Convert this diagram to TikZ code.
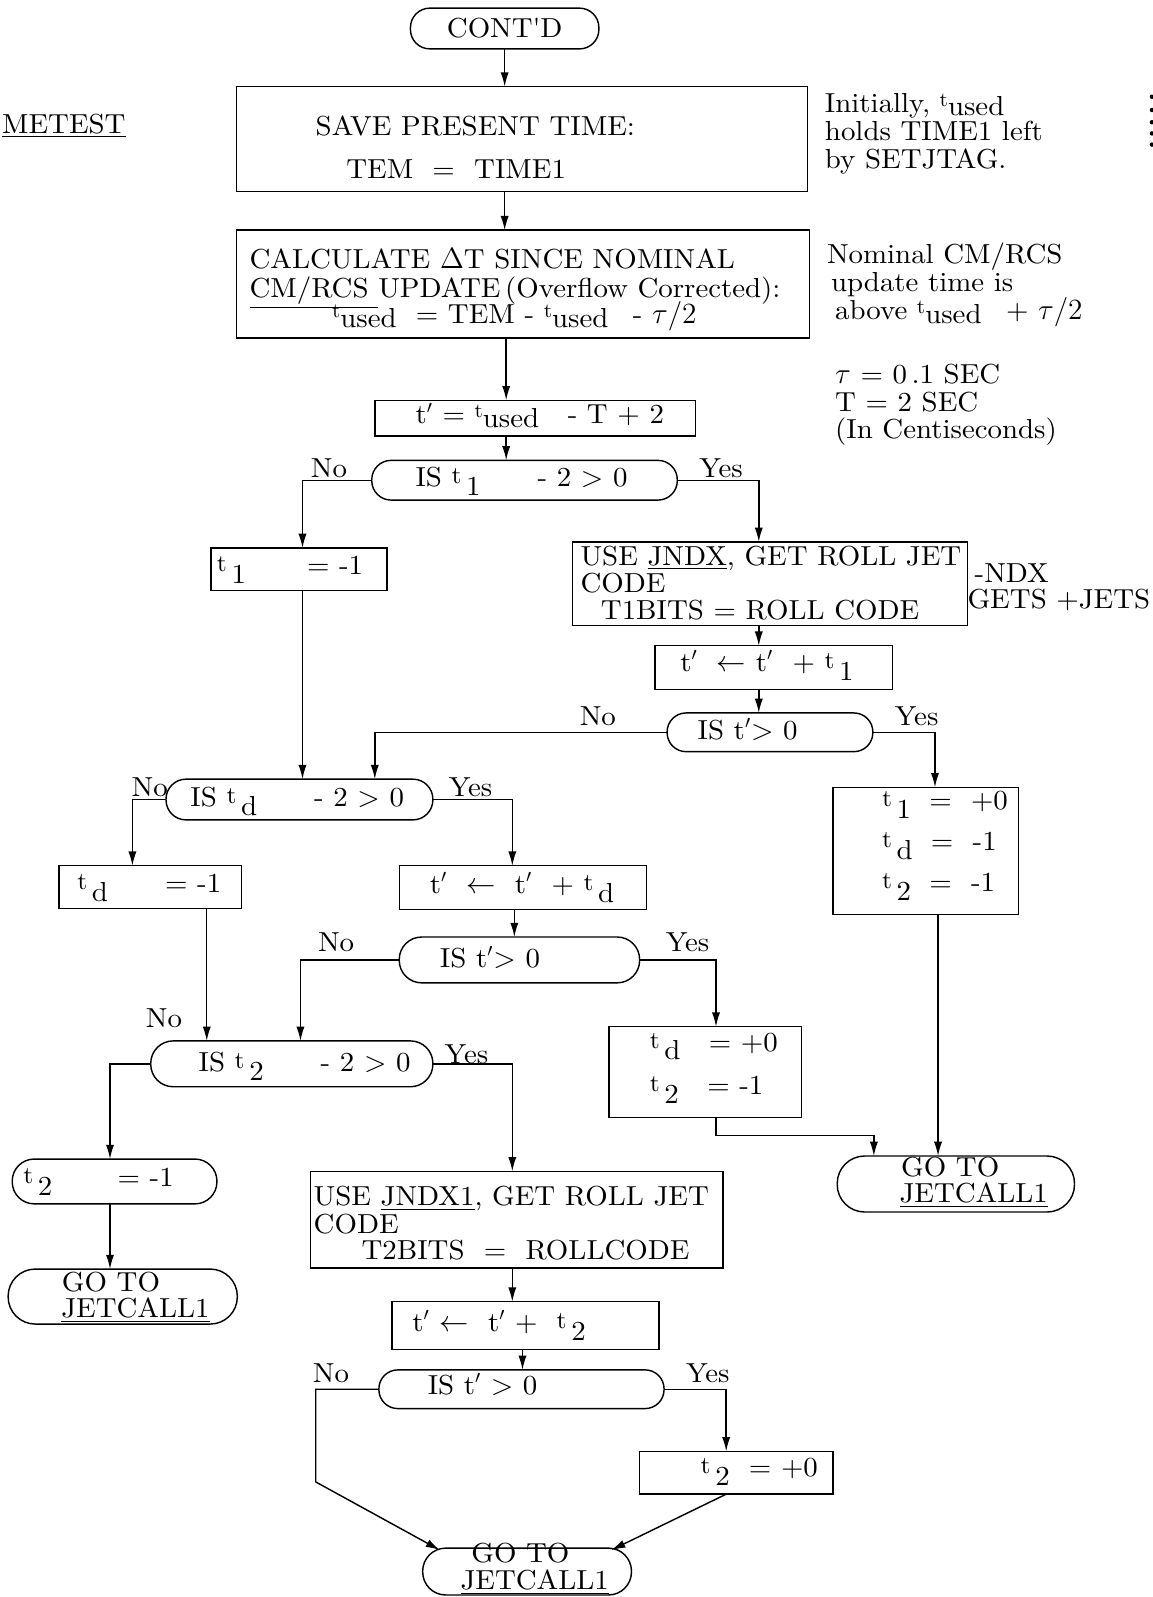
\documentclass[tikz,border=0pt]{standalone}
\usepackage{fontspec}
\setmainfont{lmroman10-regular.otf}[FakeStretch=1.05]
\usetikzlibrary{arrows.meta,calc}
\newcommand{\fsz}{\fontsize{13.5}{15}\selectfont}
\newcommand{\tu}{\raisebox{0.5ex}{\fontsize{10}{10}\selectfont t}\raisebox{-0.3ex}{used}}
\newcommand{\tsb}[1]{\raisebox{0.25ex}{\fontsize{12}{12}\selectfont t}\,\raisebox{-0.75ex}{#1}}
\newcommand{\tq}{t$'$}
\begin{document}
\begin{tikzpicture}[x=0.5pt,y=-0.5pt,
  every node/.style={font=\fsz, inner sep=0pt, outer sep=0pt},
  box/.style={draw, line width=0.7pt},
  term/.style={box, rounded corners=#1},
  arr/.style={line width=0.7pt, -{Latex[length=7pt,width=4pt]}},
  tx/.style={anchor=base west},
  txc/.style={anchor=base}]
\useasboundingbox (0,0) rectangle (1132,1568);

% shapes
\node[term=9.5pt, minimum width=92.5pt, minimum height=20pt] (cont) at (495.5,28) {CONT\textquotesingle D};
\node[box, minimum width=280.5pt, minimum height=51.5pt] (save) at (512.5,136.5) {};
\node[box, minimum width=281.5pt, minimum height=53pt] (calc) at (513.5,279) {};
\node[box, minimum width=157.5pt, minimum height=17.5pt] (tp) at (525.5,410.5) {};
\node[term=9.5pt, minimum width=150pt, minimum height=19.5pt] (d1) at (515,471.5) {};
\node[box, minimum width=86.5pt, minimum height=21pt] (t1box) at (293.5,559) {};
\node[box, minimum width=194pt, minimum height=41pt] (jndx) at (756,573) {};
\node[box, minimum width=116.5pt, minimum height=21.5pt] (tpt1) at (759.5,655.5) {};
\node[term=9.3pt, minimum width=101pt, minimum height=19pt] (d2) at (756,719) {};
\node[term=9.8pt, minimum width=131pt, minimum height=20pt] (dtd) at (294,785) {};
\node[box, minimum width=89.5pt, minimum height=21pt] (tdbox) at (147.5,871) {};
\node[box, minimum width=121.5pt, minimum height=21.5pt] (tptd) at (513.5,871.5) {};
\node[term=11pt, minimum width=118pt, minimum height=22.5pt] (d3) at (510,942.5) {};
\node[box, minimum width=91pt, minimum height=62.5pt] (box3) at (909,835.5) {};
\node[term=11pt, minimum width=138.5pt, minimum height=22.5pt] (dt2) at (286.5,1044.5) {};
\node[box, minimum width=94.5pt, minimum height=44.5pt] (box4) at (692.5,1052.5) {};
\node[term=13.5pt, minimum width=116.5pt, minimum height=27.5pt] (go1) at (938.5,1162.5) {};
\node[term=10.8pt, minimum width=100.5pt, minimum height=22pt] (t2term) at (112.5,1160) {};
\node[term=13.3pt, minimum width=112.5pt, minimum height=27pt] (go2) at (120.5,1273) {};
\node[box, minimum width=202.5pt, minimum height=47.5pt] (jndx1) at (507.5,1197.5) {};
\node[box, minimum width=131pt, minimum height=23.5pt] (tpt2) at (516,1301.5) {};
\node[term=9.3pt, minimum width=140pt, minimum height=19pt] (d4) at (512,1364) {};
\node[box, minimum width=95pt, minimum height=21pt] (t2zero) at (723,1446) {};
\node[term=11.3pt, minimum width=102.5pt, minimum height=23pt] (go3) at (517.5,1543) {};

% texts
\node[anchor=base west] (metest) at (2,131) {\underline{MET}\underline{EST}};
\node[tx] (s1) at (310,133) {SAVE PRESENT TIME:};
\node[tx] (s2) at (340,175) {TEM\ \ =\ \ TIME1};
\node[tx] (n1a) at (810,110) {Initially, \tu};
\node[tx] (n1b) at (810,138) {holds TIME1 left};
\node[tx] (n1c) at (810,165) {by SETJTAG.};
\node[tx] (c1) at (245,264) {CALCULATE $\Delta$T SINCE NOMINAL};
\node[tx] (c2) at (245,292) {\underline{CM/RCS\ }UPDATE\,(Overflow Corrected):};
\node[tx] (c3) at (326,318) {\tu\ \ =\ TEM\ -\ \tu\hspace{12pt}-\ $\tau/2$};
\node[tx] (n2a) at (812,259) {Nominal CM/RCS};
\node[tx] (n2b) at (816,286) {update time is};
\node[tx] (n2c) at (820,314) {above \tu\hspace{12pt}+ $\tau/2$};
\node[tx] (tpt) at (408,416) {\tq\ = \tu\hspace{14pt}- T + 2};
\node[tx] (n3a) at (820,377) {$\tau$ = 0\,.1 SEC};
\node[tx] (n3b) at (820,404) {T = 2 SEC};
\node[tx] (n3c) at (820,431) {(In Centiseconds)};
\node[tx] (d1t) at (408,478) {IS \tsb{1}\hspace{28pt}- 2 > 0};
\node (no1) at (323,460) {No};
\node (yes1) at (708,460) {Yes};
\node[tx] (t1t) at (213,564) {\tsb{1}\hspace{30pt}= -1};
\node[tx] (j1) at (570,555) {USE \underline{JNDX}, GET ROLL JET};
\node[tx] (j2) at (570,582) {CODE};
\node[tx] (j3) at (590,608) {T1BITS = ROLL CODE};
\node[tx] (ndx1) at (957,572) {-NDX};
\node[tx] (ndx2) at (950,597) {GETS +JETS};
\node[tx] (tpt1t) at (668,659) {\tq\ \ $\leftarrow$ \tq\ \ + \tsb{1}};
\node[tx] (d2t) at (685,726) {IS \tq{}> 0};
\node (no2) at (587,703) {No};
\node (yes2) at (900,703) {Yes};
\node[tx] (dtdt) at (187,792) {IS \tsb{d}\hspace{28pt}- 2 > 0};
\node (no3) at (147,773) {No};
\node (yes3) at (462,773) {Yes};
\node[tx] (tdt) at (76,876) {\tsb{d}\hspace{28pt}= -1};
\node[tx] (tptdt) at (422,877) {\tq\ \ $\leftarrow$\ \ \tq\ \ + \tsb{d}};
\node[tx] (d3t) at (432,950) {IS \tq{}> 0};
\node (no4) at (330,925) {No};
\node (yes4) at (675,925) {Yes};
\node[tx] (b3a) at (866,795) {\tsb{1}\hspace{9pt}=\ \ +0};
\node[tx] (b3b) at (866,835) {\tsb{d}\hspace{9pt}=\ \ -1};
\node[tx] (b3c) at (866,875) {\tsb{2}\hspace{9pt}=\ \ -1};
\node[tx] (dt2t) at (195,1052) {IS \tsb{2}\hspace{28pt}- 2 > 0};
\node (no5) at (161,1000) {No};
\node (yes5) at (458,1035) {Yes};
\node[tx] (b4a) at (638,1032) {\tsb{d}\hspace{14pt}= +0};
\node[tx] (b4b) at (638,1075) {\tsb{2}\hspace{14pt}= -1};
\node[txc] (g1a) at (933,1155) {GO TO};
\node[txc] (g1b) at (956,1181) {\underline{JETCALL1}};
\node[tx] (t2tt) at (23,1165) {\tsb{2}\hspace{32pt}= -1};
\node[txc] (g2a) at (109,1268) {GO TO};
\node[txc] (g2b) at (133,1294) {\underline{JETCALL1}};
\node[tx] (k1) at (308,1184) {USE \underline{JNDX1}, GET ROLL JET};
\node[tx] (k2) at (308,1211) {CODE};
\node[tx] (k3) at (355,1237) {T2BITS\ \ =\ \ ROLLCODE};
\node[tx] (tpt2t) at (405,1307) {\tq\ $\leftarrow$\ \ \tq\ +\ \ \tsb{2}};
\node[tx] (d4t) at (420,1369) {IS \tq\ > 0};
\node (no6) at (325,1348) {No};
\node (yes6) at (695,1348) {Yes};
\node[tx] (t2zt) at (688,1450) {\tsb{2}\ \ = +0};
\node[txc] (g3a) at (511,1534) {GO TO};
\node[txc] (g3b) at (525,1561) {\underline{JETCALL1}};

% right-edge dots
\foreach \yy in {95,108,120,131,142} \fill (1131,\yy) circle (2.2);

% columns
\foreach \xx in {297,497,745,368,918,130,503,505,295,703,203,921,108,858,513,713}
  \coordinate (v\xx) at (\xx,0);
\coordinate (b4) at (858,1115);
\coordinate (kk) at (310,1455);
\coordinate (g3l) at (432,1522);
\coordinate (g3r) at (600,1522);

% connectors
\draw[arr] (cont.south) -- (cont.south |- save.north);
\draw[arr] (cont.south |- save.south) -- (cont.south |- calc.north);
\draw[arr] (v497 |- calc.south) -- (v497 |- tp.north);
\draw[arr] (v497 |- tp.south) -- (v497 |- d1.north);
\draw[arr] (d1.west) -| (v297 |- t1box.north);
\draw[arr] (d1.east) -| (v745 |- jndx.north);
\draw[arr] (v745 |- jndx.south) -- (v745 |- tpt1.north);
\draw[arr] (v745 |- tpt1.south) -- (v745 |- d2.north);
\draw[arr] (d2.west) -| (v368 |- dtd.north);
\draw[arr] (d2.east) -| (v918 |- box3.north);
\draw[arr] (v297 |- t1box.south) -- (v297 |- dtd.north);
\draw[arr] (dtd.west) -| (v130 |- tdbox.north);
\draw[arr] (dtd.east) -| (v503 |- tptd.north);
\draw[arr] (v505 |- tptd.south) -- (v505 |- d3.north);
\draw[arr] (d3.west) -| (v295 |- dt2.north);
\draw[arr] (d3.east) -| (v703 |- box4.north);
\draw[arr] (v203 |- tdbox.south) -- (v203 |- dt2.north);
\draw[arr] (v921 |- box3.south) -- (v921 |- go1.north);
\draw[arr] (dt2.west) -| (v108 |- t2term.north);
\draw[arr] (dt2.east) -| (v503 |- jndx1.north);
\draw[arr] (v703 |- box4.south) |- (b4) -- (v858 |- go1.north);
\draw[arr] (v108 |- t2term.south) -- (v108 |- go2.north);
\draw[arr] (v503 |- jndx1.south) -- (v503 |- tpt2.north);
\draw[arr] (v513 |- tpt2.south) -- (v513 |- d4.north);
\draw[arr] (d4.west) -| (kk) -- (g3l);
\draw[arr] (d4.east) -| (v713 |- t2zero.north);
\draw[arr] (v713 |- t2zero.south) -- (g3r);
\end{tikzpicture}
\end{document}
